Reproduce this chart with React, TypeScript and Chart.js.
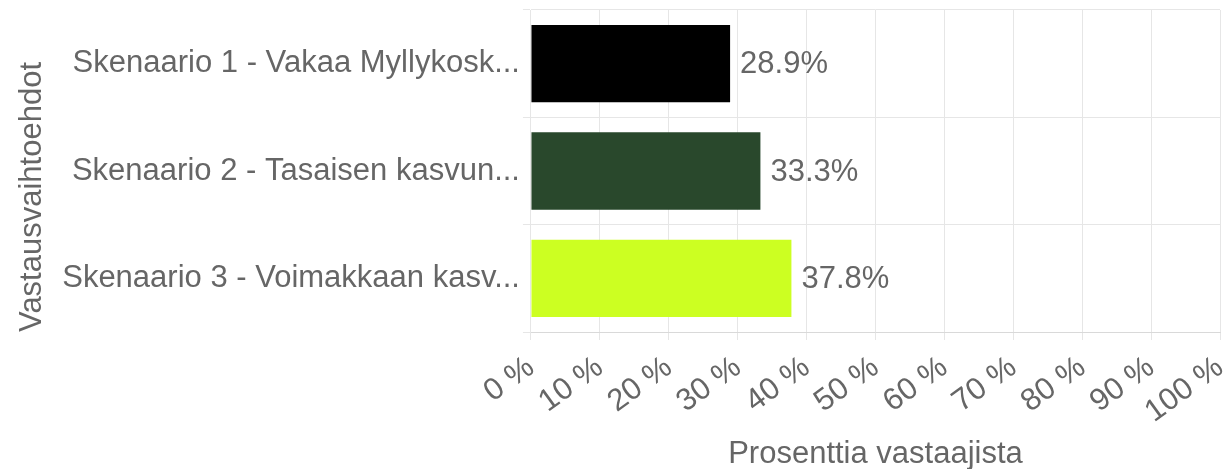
import React, { useEffect, useRef } from "react";
import { Chart, registerables } from "chart.js";

Chart.register(...registerables);

const categories = [
  "Skenaario 1 - Vakaa Myllykosk...",
  "Skenaario 2 - Tasaisen kasvun...",
  "Skenaario 3 - Voimakkaan kasv...",
];
const values = [28.9, 33.3, 37.8];
const barColors = ["#000000", "#29482C", "#CCFF22"];
const xTickValues = [0, 10, 20, 30, 40, 50, 60, 70, 80, 90, 100];
const xTitle = "Prosenttia vastaajista";
const yTitle = "Vastausvaihtoehdot";

const FONT = "'Liberation Sans', Arial, Helvetica, sans-serif";
const TEXT = "#666666";
const FS = 31;

const valueLabels = {
  id: "valueLabels",
  afterDatasetsDraw(chart: any) {
    const ctx = chart.ctx;
    const meta = chart.getDatasetMeta(0);
    ctx.save();
    ctx.font = `${FS}px ${FONT}`;
    ctx.fillStyle = TEXT;
    ctx.textAlign = "left";
    ctx.textBaseline = "middle";
    meta.data.forEach((el: any, i: number) => {
      const v = chart.data.datasets[0].data[i];
      ctx.fillText(`${v.toFixed(1)}%`, el.x + 10, el.y + 1);
    });
    ctx.restore();
  },
};

export default function App() {
  const ref = useRef<HTMLCanvasElement>(null);
  useEffect(() => {
    if (!ref.current) return;
    const chart = new Chart(ref.current, {
      type: "bar",
      data: {
        labels: categories,
        datasets: [
          {
            data: values,
            backgroundColor: barColors,
            borderWidth: 0,
          },
        ],
      },
      options: {
        indexAxis: "y",
        animation: false,
        responsive: true,
        maintainAspectRatio: false,
        layout: { padding: { top: 10, right: 7, left: 14, bottom: 0 } },
        plugins: {
          legend: { display: false },
          tooltip: { enabled: false },
        },
        scales: {
          x: {
            min: 0,
            max: 100,
            afterBuildTicks: (axis: any) => {
              axis.ticks = xTickValues.map((v) => ({ value: v }));
            },
            afterFit: (axis: any) => {
              axis.height = 137;
              axis.paddingRight = 0;
              axis.paddingLeft = 0;
            },
            grid: { color: "#e6e6e6", tickLength: 8 },
            border: { color: "#d9d9d9" },
            ticks: {
              color: TEXT,
              font: { family: FONT, size: FS },
              minRotation: 36,
              maxRotation: 36,
              padding: 9,
              callback: (v: any) => `${v} %`,
            },
            title: {
              display: true,
              text: xTitle,
              color: TEXT,
              font: { family: FONT, size: FS },
              padding: { top: 0, bottom: -4 },
            },
          },
          y: {
            afterFit: (axis: any) => {
              axis.paddingTop = 0;
              axis.paddingBottom = 0;
            },
            grid: { color: "#e6e6e6", tickLength: 8 },
            border: { color: "#e6e6e6" },
            ticks: {
              color: TEXT,
              font: { family: FONT, size: FS },
            },
            title: {
              display: true,
              text: yTitle,
              align: "start",
              color: TEXT,
              font: { family: FONT, size: FS },
              padding: { top: 0, bottom: 8 },
            },
          },
        },
      },
      plugins: [valueLabels],
    });
    return () => chart.destroy();
  }, []);
  return (
    <div style={{ position: "absolute", left: 0, top: 0, width: 1227, height: 469 }}>
      <canvas ref={ref} />
    </div>
  );
}
